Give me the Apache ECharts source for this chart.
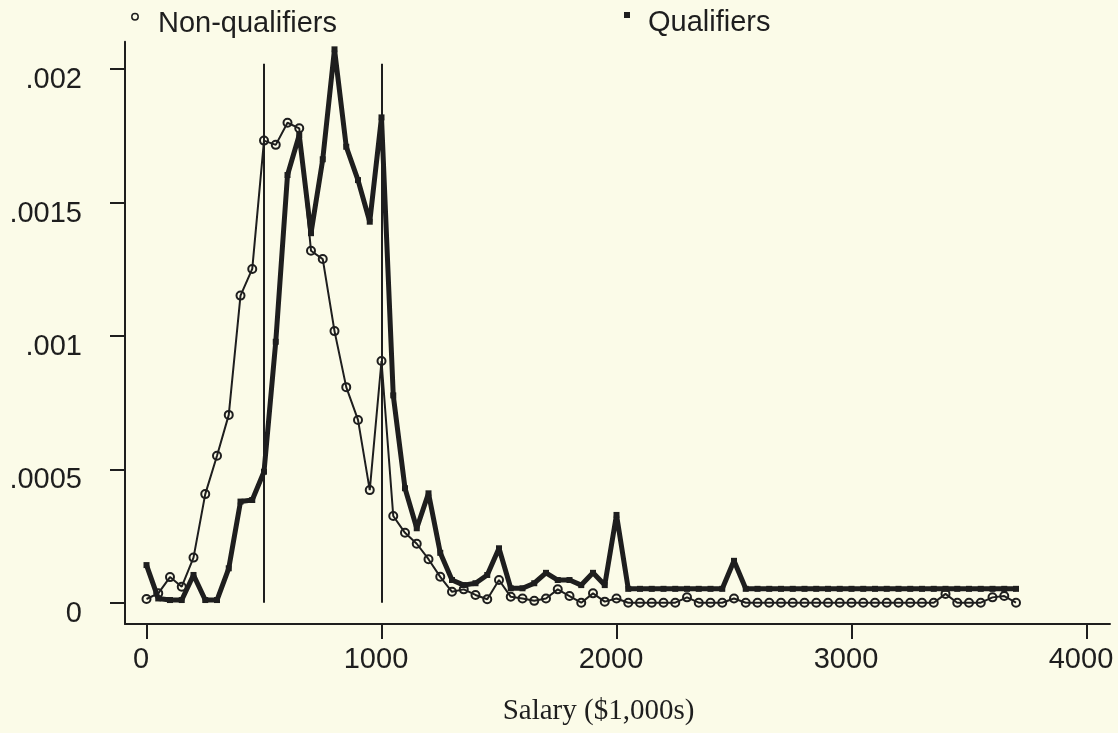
<!DOCTYPE html>
<html>
<head>
<meta charset="utf-8">
<title>Salary density: qualifiers vs non-qualifiers</title>
<script src="https://cdn.jsdelivr.net/npm/echarts@6/dist/echarts.min.js"></script>
<style>
  html, body { margin: 0; padding: 0; background: #fbfbe8; }
  #chart { width: 1118px; height: 733px; }
</style>
</head>
<body>
<div id="chart"></div>
<script>
// Salary bins, in $1,000s
const salary = [
  0, 50, 100, 150, 200, 250, 300, 350, 400, 450, 500, 550, 600, 650, 700, 750,
  800, 850, 900, 950, 1000, 1050, 1100, 1150, 1200, 1250, 1300, 1350, 1400, 1450,
  1500, 1550, 1600, 1650, 1700, 1750, 1800, 1850, 1900, 1950, 2000, 2050, 2100,
  2150, 2200, 2250, 2300, 2350, 2400, 2450, 2500, 2550, 2600, 2650, 2700, 2750,
  2800, 2850, 2900, 2950, 3000, 3050, 3100, 3150, 3200, 3250, 3300, 3350, 3400,
  3450, 3500, 3550, 3600, 3650, 3700
];

// Density of non-qualifiers at each salary bin
const nonQualifiers = [
  0.000014, 0.000035, 0.000096, 0.000060, 0.000169, 0.000407, 0.000551, 0.000704,
  0.001151, 0.001251, 0.001732, 0.001716, 0.001799, 0.001778, 0.001319, 0.001288,
  0.001018, 0.000808, 0.000685, 0.000422, 0.000906, 0.000325, 0.000262, 0.000221,
  0.000163, 0.000097, 0.000041, 0.000050, 0.000029, 0.000013, 0.000085, 0.000022,
  0.000016, 0.000007, 0.000016, 0.000050, 0.000025, 0, 0.000035, 0.000004,
  0.000016, 0, 0, 0, 0, 0, 0.000020, 0, 0, 0,
  0.000016, 0, 0, 0, 0, 0, 0, 0, 0, 0,
  0, 0, 0, 0, 0, 0, 0, 0, 0.000033, 0,
  0, 0, 0.000020, 0.000025, 0
];

// Density of qualifiers at each salary bin
const qualifiers = [
  0.000141, 0.000016, 0.000010, 0.000010, 0.000104, 0.000010, 0.000010, 0.000129,
  0.000379, 0.000385, 0.000491, 0.000978, 0.001603, 0.001753, 0.001385, 0.001662,
  0.002074, 0.001709, 0.001584, 0.001428, 0.001819, 0.000777, 0.000429, 0.000279,
  0.000410, 0.000187, 0.000085, 0.000066, 0.000073, 0.000104, 0.000204, 0.000054,
  0.000054, 0.000073, 0.000112, 0.000085, 0.000085, 0.000066, 0.000112, 0.000066,
  0.000329, 0.000052, 0.000052, 0.000052, 0.000052, 0.000052, 0.000052, 0.000052,
  0.000052, 0.000052, 0.000157, 0.000052, 0.000052, 0.000052, 0.000052, 0.000052,
  0.000052, 0.000052, 0.000052, 0.000052, 0.000052, 0.000052, 0.000052, 0.000052,
  0.000052, 0.000052, 0.000052, 0.000052, 0.000052, 0.000052, 0.000052, 0.000052,
  0.000052, 0.000052, 0.000052
];

// Reference salaries marked with vertical lines, and how high the lines reach
const cutoffs = [500, 1000];
const cutoffTop = 0.00202;

// Axis ticks and their labels
const xTicks = [0, 1000, 2000, 3000, 4000];
const yTicks = [0, 0.0005, 0.001, 0.0015, 0.002];
const yTickLabels = ['0', '.0005', '.001', '.0015', '.002'];

const ink = '#1e1e1e';
const sans = '"Liberation Sans", Arial, Helvetica, sans-serif';
const serif = '"Liberation Serif", "Times New Roman", serif';

const chart = echarts.init(document.getElementById('chart'), null, { renderer: 'canvas' });

chart.setOption({
  backgroundColor: '#fbfbe8',
  animation: false,
  grid: {
    left: 125, right: 8, top: 41.7, bottom: 109,
    containLabel: false, outerBoundsMode: 'none'
  },
  xAxis: {
    type: 'value',
    min: -91.5, max: 4100,
    splitLine: { show: false },
    axisLine: { show: true, onZero: false, lineStyle: { color: ink, width: 2 } },
    axisTick: { show: true, customValues: xTicks, length: 15, lineStyle: { color: ink, width: 2 } },
    axisLabel: {
      show: true, customValues: xTicks, margin: 21,
      color: ink, fontFamily: sans, fontSize: 29, padding: [0, 11, 0, 0],
      formatter: function (v) { return String(v); }
    },
    name: 'Salary ($1,000s)',
    nameLocation: 'middle',
    nameGap: 73,
    nameTextStyle: { color: ink, fontFamily: serif, fontSize: 29, padding: [0, 38, 0, 0] }
  },
  yAxis: {
    type: 'value',
    min: -0.0000798, max: 0.0021027,
    splitLine: { show: false },
    axisLine: { show: true, onZero: false, lineStyle: { color: ink, width: 2 } },
    axisTick: { show: true, customValues: yTicks, length: 15, lineStyle: { color: ink, width: 2 } },
    axisLabel: {
      show: true, customValues: yTicks, margin: 43,
      color: ink, fontFamily: sans, fontSize: 29,
      verticalAlign: 'top', lineHeight: 22,
      formatter: function (v) {
        for (let i = 0; i < yTicks.length; i++) {
          if (Math.abs(v - yTicks[i]) < 1e-9) return yTickLabels[i];
        }
        return '';
      }
    }
  },
  series: [
    {
      name: 'Qualifiers',
      type: 'line',
      data: salary.map((s, i) => [s, qualifiers[i]]),
      symbol: 'rect',
      symbolSize: 6,
      showAllSymbol: true,
      lineStyle: { color: ink, width: 5 },
      itemStyle: { color: ink },
      z: 2,
      markLine: {
        silent: true,
        symbol: ['none', 'none'],
        label: { show: false },
        lineStyle: { color: ink, width: 2, type: 'solid' },
        data: cutoffs.map(c => [{ coord: [c, 0] }, { coord: [c, cutoffTop] }])
      }
    },
    {
      name: 'Non-qualifiers',
      type: 'line',
      data: salary.map((s, i) => [s, nonQualifiers[i]]),
      symbol: 'circle',
      symbolSize: 8,
      showAllSymbol: true,
      lineStyle: { color: ink, width: 2 },
      itemStyle: { color: 'rgba(0,0,0,0)', borderColor: ink, borderWidth: 2 },
      z: 3
    }
  ],
  graphic: [
    { type: 'circle', shape: { cx: 135, cy: 16.7, r: 3.2 },
      style: { fill: 'none', stroke: ink, lineWidth: 1.5 } },
    { type: 'text', x: 158, y: 24,
      style: { text: 'Non-qualifiers', fill: ink, font: '29px ' + sans, verticalAlign: 'middle' } },
    { type: 'rect', shape: { x: 624, y: 12, width: 6, height: 6 },
      style: { fill: ink } },
    { type: 'text', x: 648, y: 23,
      style: { text: 'Qualifiers', fill: ink, font: '29px ' + sans, verticalAlign: 'middle' } }
  ]
});
</script>
</body>
</html>
